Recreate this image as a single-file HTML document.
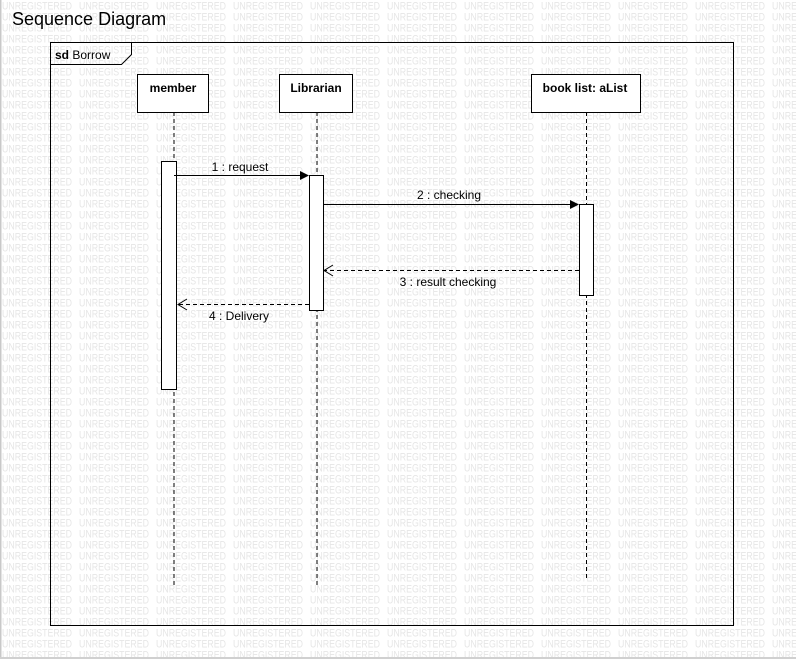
<!DOCTYPE html>
<html><head><meta charset="utf-8"><style>
html,body{margin:0;padding:0;background:#fff;}
svg{display:block;}
</style></head><body>
<svg width="796" height="659" viewBox="0 0 796 659" xmlns="http://www.w3.org/2000/svg" font-family="Liberation Sans, Arial, sans-serif">
<defs>
<pattern id="wm" x="2" y="0" width="77" height="11" patternUnits="userSpaceOnUse">
<text x="0" y="9.5" font-size="11" fill="#e6e6e6" textLength="70" lengthAdjust="spacingAndGlyphs">UNREGISTERED</text>
</pattern>
</defs>
<rect width="796" height="659" fill="#fff"/>
<rect width="796" height="659" fill="url(#wm)"/>
<rect x="0" y="0" width="1.5" height="659" fill="#c8c8c8"/>
<rect x="0" y="657" width="796" height="2" fill="#d0d0d0"/>
<text x="12" y="25" font-size="18" fill="#000">Sequence Diagram</text>
<rect x="50.5" y="42.5" width="683" height="583" fill="none" stroke="#000" stroke-width="1"/>
<path d="M50.5 64.5 H121.5 L131.5 54.5 V42.5" fill="none" stroke="#000"/>
<text x="55" y="59" font-size="12" fill="#000"><tspan font-weight="bold">sd</tspan> Borrow</text>
<g stroke="#000" stroke-dasharray="4,3">
<line x1="174" y1="112" x2="174" y2="585"/>
<line x1="317" y1="112" x2="317" y2="585"/>
<line x1="586.5" y1="112" x2="586.5" y2="578"/>
</g>
<g fill="#fff" stroke="#000">
<rect x="137.5" y="74.5" width="71" height="38"/>
<rect x="279.5" y="74.5" width="73" height="38"/>
<rect x="531.5" y="74.5" width="109" height="38"/>
<rect x="161.5" y="161.5" width="15" height="228"/>
<rect x="309.5" y="175.5" width="14" height="135"/>
<rect x="579.5" y="204.5" width="14" height="91"/>
</g>
<g font-size="12" font-weight="bold" text-anchor="middle" fill="#000">
<text x="173" y="92">member</text>
<text x="316" y="92">Librarian</text>
<text x="585" y="92">book list: aList</text>
</g>
<g stroke="#000">
<line x1="174" y1="175.5" x2="300" y2="175.5"/>
<line x1="323" y1="204.5" x2="570" y2="204.5"/>
<line x1="579" y1="270.5" x2="324" y2="270.5" stroke-dasharray="4,3"/>
<line x1="309" y1="304.5" x2="178" y2="304.5" stroke-dasharray="4,3"/>
<polyline points="333,265 324,270.5 333,276" fill="none"/>
<polyline points="187,299 178,304.5 187,310" fill="none"/>
</g>
<polygon points="300,171 309,175.5 300,180" fill="#000"/>
<polygon points="570,200 579,204.5 570,209" fill="#000"/>
<g font-size="12" text-anchor="middle" fill="#000">
<text x="240" y="171">1 : request</text>
<text x="449" y="199">2 : checking</text>
<text x="448" y="286">3 : result checking</text>
<text x="239" y="320">4 : Delivery</text>
</g>
</svg>
</body></html>
